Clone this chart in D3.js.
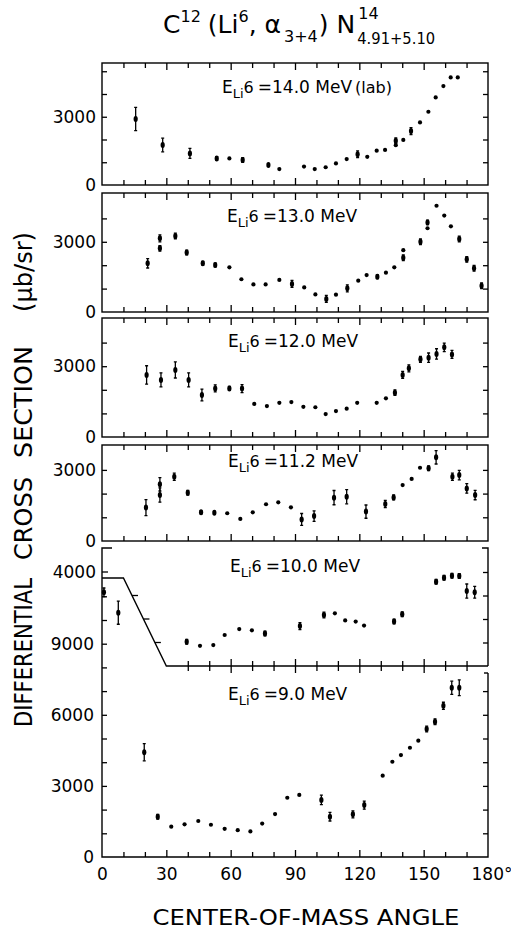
<!DOCTYPE html>
<html><head><meta charset="utf-8">
<script src="https://cdn.jsdelivr.net/npm/d3@7"></script>
<style>body{margin:0;background:#fff} svg{display:block}</style>
</head><body><svg id="c" width="511" height="939"></svg>
<script>
// ---------------- DATA ----------------
const energyLabels = ['14.0 MeV (lab)', '13.0 MeV', '12.0 MeV', '11.2 MeV', '10.0 MeV', '9.0 MeV'];

const ang14 = [15.7, 28.3, 41.0, 53.5, 59.4, 65.6, 77.6, 82.7, 94.2, 99.2, 104.3, 109.1, 114.1, 119.2, 123.7, 128.1, 132.0, 137.0, 137.0, 140.5, 144.1, 148.3, 152.2, 155.6, 159.2, 162.6, 165.9];
const val14 = [2900, 1760, 1390, 1170, 1170, 1100, 880, 700, 810, 700, 780, 950, 1140, 1350, 1240, 1510, 1540, 1950, 1750, 1980, 2370, 2750, 3220, 3850, 4350, 4730, 4730];
const err14 = [510, 300, 220, 80, 0, 100, 60, 0, 0, 0, 0, 0, 0, 150, 0, 0, 0, 120, 0, 0, 150, 0, 0, 0, 0, 0, 0];

const ang13 = [21.3, 27.0, 27.0, 34.2, 39.5, 47.0, 52.8, 59.4, 65.0, 70.6, 76.3, 82.7, 88.6, 94.3, 99.5, 104.6, 109.1, 114.4, 119.5, 123.4, 128.4, 132.4, 136.3, 140.5, 140.5, 148.5, 151.8, 151.8, 156.0, 159.6, 162.7, 166.6, 170.1, 173.5, 177.0];
const val13 = [2080, 3150, 2720, 3250, 2540, 2080, 2010, 1910, 1400, 1180, 1180, 1370, 1200, 1050, 750, 560, 740, 1010, 1340, 1580, 1510, 1680, 1910, 2320, 2640, 3000, 3830, 3580, 4540, 4120, 3660, 3120, 2250, 1870, 1120];
const err13 = [200, 150, 120, 120, 100, 80, 80, 0, 0, 0, 0, 0, 150, 0, 0, 150, 0, 150, 0, 0, 80, 0, 0, 120, 0, 120, 100, 0, 0, 0, 0, 120, 120, 120, 120];

const ang12 = [20.8, 27.5, 34.2, 40.4, 46.6, 52.8, 59.4, 65.3, 71.0, 76.9, 82.7, 88.3, 93.9, 99.5, 104.3, 109.1, 114.1, 119.0, 128.1, 132.4, 136.6, 140.2, 143.1, 148.5, 152.3, 156.0, 159.6, 163.2];
const val12 = [2630, 2420, 2840, 2420, 1780, 2060, 2060, 2050, 1400, 1310, 1450, 1480, 1280, 1260, 970, 1100, 1200, 1450, 1450, 1640, 1880, 2630, 2910, 3290, 3360, 3520, 3800, 3500];
const err12 = [390, 300, 340, 300, 250, 150, 80, 170, 0, 0, 0, 0, 0, 0, 0, 0, 0, 0, 0, 0, 120, 150, 150, 130, 200, 220, 180, 170];

const ang112 = [20.5, 27.0, 27.0, 33.7, 40.0, 46.2, 52.4, 58.4, 64.5, 70.3, 76.5, 82.2, 88.1, 93.1, 98.9, 108.2, 114.1, 123.1, 132.1, 136.0, 140.2, 144.4, 148.3, 152.3, 155.8, 163.4, 166.6, 170.1, 174.0];
const val112 = [1410, 2390, 1940, 2710, 2040, 1210, 1190, 1170, 930, 1210, 1550, 1630, 1420, 910, 1050, 1830, 1870, 1240, 1560, 1840, 2360, 2620, 3090, 3070, 3530, 2710, 2780, 2220, 1940];
const err112 = [340, 280, 300, 150, 100, 60, 60, 0, 0, 0, 0, 0, 0, 250, 220, 300, 300, 280, 150, 100, 0, 0, 0, 100, 280, 150, 200, 200, 200];

const ang10 = [39.5, 45.7, 51.9, 57.2, 64.0, 69.9, 76.0, 92.3, 103.5, 108.6, 113.4, 118.3, 122.2, 136.2, 140.0, 155.8, 159.5, 163.2, 166.6, 170.1, 173.8];
const val10 = [1030, 860, 890, 1320, 1570, 1520, 1380, 1700, 2170, 2240, 1940, 1890, 1720, 1890, 2200, 3590, 3760, 3840, 3830, 3190, 3140];
const err10 = [100, 0, 0, 0, 0, 0, 100, 150, 120, 0, 0, 0, 0, 100, 100, 100, 100, 100, 100, 300, 250];

const ang9 = [0.9, 7.6, 19.7, 26.0, 32.3, 38.5, 44.9, 50.8, 57.2, 63.3, 69.2, 74.7, 80.7, 86.4, 92.0, 102.3, 106.3, 117.0, 122.3, 130.9, 135.4, 139.4, 143.6, 147.5, 151.4, 155.3, 159.2, 163.1, 166.6];
const val9 = [11170, 10310, 4420, 1700, 1280, 1380, 1520, 1360, 1190, 1130, 1080, 1410, 1810, 2500, 2620, 2410, 1700, 1800, 2190, 3430, 4020, 4300, 4610, 4910, 5400, 5710, 6380, 7140, 7140];
const err9 = [180, 490, 360, 100, 0, 0, 0, 0, 0, 0, 0, 0, 0, 0, 0, 200, 180, 150, 170, 0, 0, 0, 0, 0, 120, 120, 150, 280, 330];

const yTickLabels = [[0, 3000], [0, 3000], [0, 3000], [0, 3000], [4000], [0, 3000, 6000, 9000]];
const xTickValues = [0, 30, 60, 90, 120, 150, 180];
const xTickLabels = ['0', '30', '60', '90', '120', '150', '180°'];
const yTitleWords = ['DIFFERENTIAL', 'CROSS', 'SECTION', '(µb/sr)'];

// ---------------- LAYOUT ----------------
const FONT = "'DejaVu Sans', sans-serif";
const svg = d3.select('#c');
const X0 = 102, X1 = 488;
const x = d3.scaleLinear().domain([0, 180]).range([X0, X1]);

const layout = [
  {bottom: 185, top: 63, k: 22.75, lx: 222, ly: 93},
  {bottom: 312, top: 193, k: 23.4, lx: 227, ly: 222},
  {bottom: 437, top: 318, k: 23.6, lx: 228, ly: 347},
  {bottom: 541, top: 445, k: 23.7, lx: 228, ly: 467},
  {bottom: 666, top: 548, k: 23.5, lx: 230, ly: 572},
  {bottom: 857, top: 578, k: 23.7, lx: 228, ly: 700}
];
const series = [
  [ang14, val14, err14], [ang13, val13, err13], [ang12, val12, err12],
  [ang112, val112, err112], [ang10, val10, err10], [ang9, val9, err9]
];
const yScales = layout.map(L => d3.scaleLinear().domain([0, (L.bottom - L.top) / L.k * 1000]).range([L.bottom, L.top]));

const g = svg.append('g').attr('stroke', '#000').attr('fill', 'none').attr('stroke-width', 1.4);

const yB = 578;
const boundary = [[x(0), yB], [x(10), yB], [x(30), layout[4].bottom], [x(180), layout[4].bottom]];

function tickAxis(axis, tx, ty) {
  const a = svg.append('g').attr('transform', `translate(${tx},${ty})`).call(axis);
  a.select('.domain').remove();
  a.selectAll('text').remove();
  a.selectAll('line').attr('stroke', '#000').attr('stroke-width', 1.3);
  return a;
}
const minorX = d3.range(10, 180, 10).filter(v => v % 30 !== 0);
const majorX = [30, 60, 90, 120, 150];

layout.forEach((L, i) => {
  const y = yScales[i];
  const dmax = y.domain()[1];
  const yt = d3.range(1000, dmax - 200, 1000);
  if (i < 4) {
    g.append('rect').attr('x', X0).attr('y', L.top).attr('width', X1 - X0).attr('height', L.bottom - L.top);
    tickAxis(d3.axisBottom(x).tickValues(minorX).tickSize(-5), 0, L.bottom);
    tickAxis(d3.axisBottom(x).tickValues(majorX).tickSize(-7), 0, L.bottom);
    tickAxis(d3.axisTop(x).tickValues(minorX).tickSize(-5), 0, L.top);
    tickAxis(d3.axisTop(x).tickValues(majorX).tickSize(-7), 0, L.top);
    tickAxis(d3.axisLeft(y).tickValues(yt).tickSize(-5), X0, 0);
    tickAxis(d3.axisRight(y).tickValues(yt).tickSize(-5), X1, 0);
  } else if (i === 4) {
    g.append('path').attr('d', d3.line()([[X0 + 10, L.top], [X0, L.top], [X0, yB]]));
    g.append('path').attr('d', d3.line()([[X1 - 6, L.top], [X1, L.top], [X1, L.bottom]]));
    g.append('path').attr('d', d3.line()(boundary));
    const xt = d3.range(40, 180, 10);
    tickAxis(d3.axisBottom(x).tickValues(xt.filter(v => v % 30 !== 0)).tickSize(-5), 0, L.bottom);
    tickAxis(d3.axisBottom(x).tickValues(xt.filter(v => v % 30 === 0)).tickSize(-7), 0, L.bottom);
    tickAxis(d3.axisRight(y).tickValues(yt).tickSize(-5), X1, 0);
    const bx = d3.scaleLinear().domain([yB, L.bottom]).range([x(10), x(30)]);
    yt.forEach(v => {
      const yy = y(v);
      const xx = yy <= yB ? X0 : bx(yy);
      g.append('line').attr('x1', xx).attr('x2', xx + 6).attr('y1', yy).attr('y2', yy).attr('stroke-width', 1.3);
    });
  } else {
    g.append('path').attr('d', d3.line()([[X0, yB], [X0, L.bottom], [X1, L.bottom], [X1, 673]]));
    g.append('line').attr('x1', X1).attr('x2', X1 - 4).attr('y1', 673).attr('y2', 673);
    tickAxis(d3.axisBottom(x).tickValues(minorX).tickSize(-5), 0, L.bottom);
    tickAxis(d3.axisBottom(x).tickValues(majorX).tickSize(-7), 0, L.bottom);
    const xt = d3.range(40, 180, 10);
    tickAxis(d3.axisTop(x).tickValues(xt.filter(v => v % 30 !== 0)).tickSize(-5), 0, layout[4].bottom);
    tickAxis(d3.axisTop(x).tickValues(xt.filter(v => v % 30 === 0)).tickSize(-7), 0, layout[4].bottom);
    tickAxis(d3.axisLeft(y).tickValues(yt).tickSize(-5), X0, 0);
    tickAxis(d3.axisRight(y).tickValues(yt.filter(v => y(v) > 680)).tickSize(-5), X1, 0);
  }
  const la = svg.append('g').attr('transform', `translate(${X0},0)`)
    .call(d3.axisLeft(y).tickValues(yTickLabels[i]).tickSize(0).tickPadding(i === 5 ? 8 : 6).tickFormat(d3.format('d')));
  la.select('.domain').remove();
  la.selectAll('text').attr('font-family', FONT).attr('font-size', 17).attr('fill', '#000');

  const [A, V, E] = series[i];
  const pts = A.map((a, j) => ({a, v: V[j], e: E[j]}));
  const dg = svg.append('g');
  dg.selectAll('line.err').data(pts.filter(p => p.e > 0)).join('line')
    .attr('x1', p => x(p.a)).attr('x2', p => x(p.a))
    .attr('y1', p => y(p.v - p.e)).attr('y2', p => y(p.v + p.e))
    .attr('stroke', '#000').attr('stroke-width', 1.3);
  dg.selectAll('path.cap').data(pts.filter(p => p.e > 0)).join('path')
    .attr('d', p => `M${x(p.a) - 1.5},${y(p.v - p.e)}h3M${x(p.a) - 1.5},${y(p.v + p.e)}h3`)
    .attr('stroke', '#000').attr('stroke-width', 1.3);
  dg.selectAll('ellipse').data(pts).join('ellipse')
    .attr('cx', p => x(p.a)).attr('cy', p => y(p.v))
    .attr('rx', 2.1).attr('ry', p => p.e > 0 ? 3 : 2.1).attr('fill', '#000');

  const t = svg.append('text').attr('x', L.lx).attr('y', L.ly)
    .attr('font-family', FONT).attr('font-size', 17).attr('fill', '#000');
  t.append('tspan').text('E');
  t.append('tspan').attr('dy', 5).attr('font-size', 13).text('Li');
  t.append('tspan').attr('dy', -5).attr('font-size', 16).text('6');
  t.append('tspan').attr('dx', 4).text('=' + energyLabels[i].replace(' (lab)', ''));
  if (energyLabels[i].includes('(lab)')) t.append('tspan').attr('dx', 3).attr('font-size', 16).text('(lab)');
});

// x axis labels
const xa = svg.append('g').attr('transform', `translate(0,${layout[5].bottom})`)
  .call(d3.axisBottom(x).tickValues(xTickValues).tickSize(0).tickPadding(11).tickFormat((d, i) => xTickLabels[i]));
xa.select('.domain').remove();
xa.selectAll('text').attr('font-family', FONT).attr('font-size', 17).attr('fill', '#000');
xa.selectAll('.tick').filter(d => d === 180).select('text').attr('text-anchor', 'start').attr('x', -17);

// x title
svg.append('text').attr('x', 306).attr('y', 925).attr('text-anchor', 'middle')
  .attr('font-family', FONT).attr('font-size', 21).attr('textLength', 307).attr('lengthAdjust', 'spacingAndGlyphs')
  .text('CENTER-OF-MASS ANGLE');

// y title (rotated), word spans along the page height
const yTitleSpans = [[727, 578], [560, 477], [458, 346], [312, 232]];
yTitleWords.forEach((s, j) => {
  const [y0, y1] = yTitleSpans[j];
  svg.append('text').attr('transform', `translate(32,${y0}) rotate(-90)`)
    .attr('font-family', FONT).attr('font-size', 24)
    .attr('textLength', y0 - y1).attr('lengthAdjust', 'spacingAndGlyphs').text(s);
});

// title
const T = svg.append('text').attr('x', 163).attr('y', 33).attr('font-family', FONT).attr('font-size', 25).attr('fill', '#000');
T.append('tspan').text('C');
T.append('tspan').attr('font-size', 16).attr('dy', -11).text('12');
T.append('tspan').attr('dy', 11).attr('dx', 7).text('(Li');
T.append('tspan').attr('font-size', 16).attr('dy', -11).text('6');
T.append('tspan').attr('dy', 11).text(', α');
T.append('tspan').attr('font-size', 16).attr('dy', 9).attr('dx', 3).text('3+4');
T.append('tspan').attr('dy', -9).attr('dx', 1).text(') N');
const tEnd = 163 + T.node().getComputedTextLength() + 12;
svg.append('text').attr('x', tEnd + 2).attr('y', 19).attr('font-family', FONT).attr('font-size', 16).text('14');
svg.append('text').attr('x', tEnd + 1).attr('y', 44).attr('font-family', FONT).attr('font-size', 15)
  .attr('textLength', 78).attr('lengthAdjust', 'spacingAndGlyphs').text('4.91+5.10');
</script>
</body></html>
